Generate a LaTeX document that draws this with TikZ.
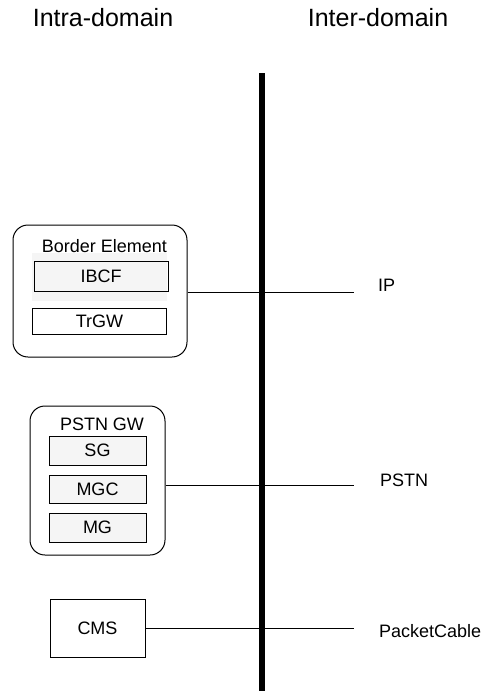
\documentclass[tikz,border=0pt]{standalone}
\usepackage{fontspec}
\setmainfont{Liberation Sans}
\begin{document}
\begin{tikzpicture}[x=1pt,y=-1pt,
  outer/.style={draw=black,line width=1pt,rounded corners=15pt},
  inner/.style={draw=black,line width=0.9pt,fill=black!4,inner sep=0pt,font=\fontsize{18}{20}\selectfont},
  plain/.style={draw=black,line width=0.9pt,inner sep=0pt,font=\fontsize{18}{20}\selectfont},
  lbl/.style={font=\fontsize{18}{20}\selectfont,inner sep=0pt},
  hdr/.style={font=\fontsize{25}{28}\selectfont,inner sep=0pt},
  conn/.style={draw=black,line width=0.9pt}]
\useasboundingbox (0,0) rectangle (484,693);
% headers
\node[hdr,anchor=base] (intra) at (103,27) {Intra-domain};
\node[hdr,anchor=base] (inter) at (378,27) {Inter-domain};
% divider
\coordinate (vtop) at (262,73);
\coordinate (vbot) at (262,691);
\draw[line width=5.5pt] (vtop) -- (vbot);
% Border element
\node[outer,minimum width=174pt,minimum height=132pt,inner sep=0pt] (be) at (100,291) {};
\fill[black!4] (32,253) rectangle (167,301);
\node[lbl,anchor=base] (betitle) at (104.5,252) {Border Element};
\node[plain,minimum width=134pt,minimum height=30pt] (ibcf) at (101,276) {IBCF};
\node[plain,minimum width=134pt,minimum height=26pt] (trgw) at (99.5,321.5) {TrGW};
% PSTN GW
\node[outer,minimum width=135pt,minimum height=149pt,inner sep=0pt] (pgw) at (97.5,480.5) {};
\node[lbl,anchor=base] (pgwtitle) at (102,430) {PSTN GW};
\node[plain,fill=black!4,minimum width=97pt,minimum height=29pt] (sg) at (97.5,450.5) {SG};
\node[plain,fill=black!4,minimum width=97pt,minimum height=28pt] (mgc) at (97.5,489) {MGC};
\node[plain,fill=black!4,minimum width=97pt,minimum height=29pt] (mg) at (97.5,527.5) {MG};
% CMS
\node[plain,minimum width=95pt,minimum height=58pt] (cms) at (97.5,628) {CMS};
% right labels
\node[lbl,anchor=base west] (ip) at (378,291) {IP};
\node[lbl,anchor=base west] (pstn) at (380,486) {PSTN};
\node[lbl,anchor=base west] (pc) at (379,637) {PacketCable};
\coordinate (ipend) at (354,292);
\coordinate (pstnend) at (354,485);
\coordinate (pcend) at (354,628);
\draw[conn] (be.east |- ipend) -- (ipend);
\draw[conn] (pgw.east |- pstnend) -- (pstnend);
\draw[conn] (cms.east |- pcend) -- (pcend);
\end{tikzpicture}
\end{document}
